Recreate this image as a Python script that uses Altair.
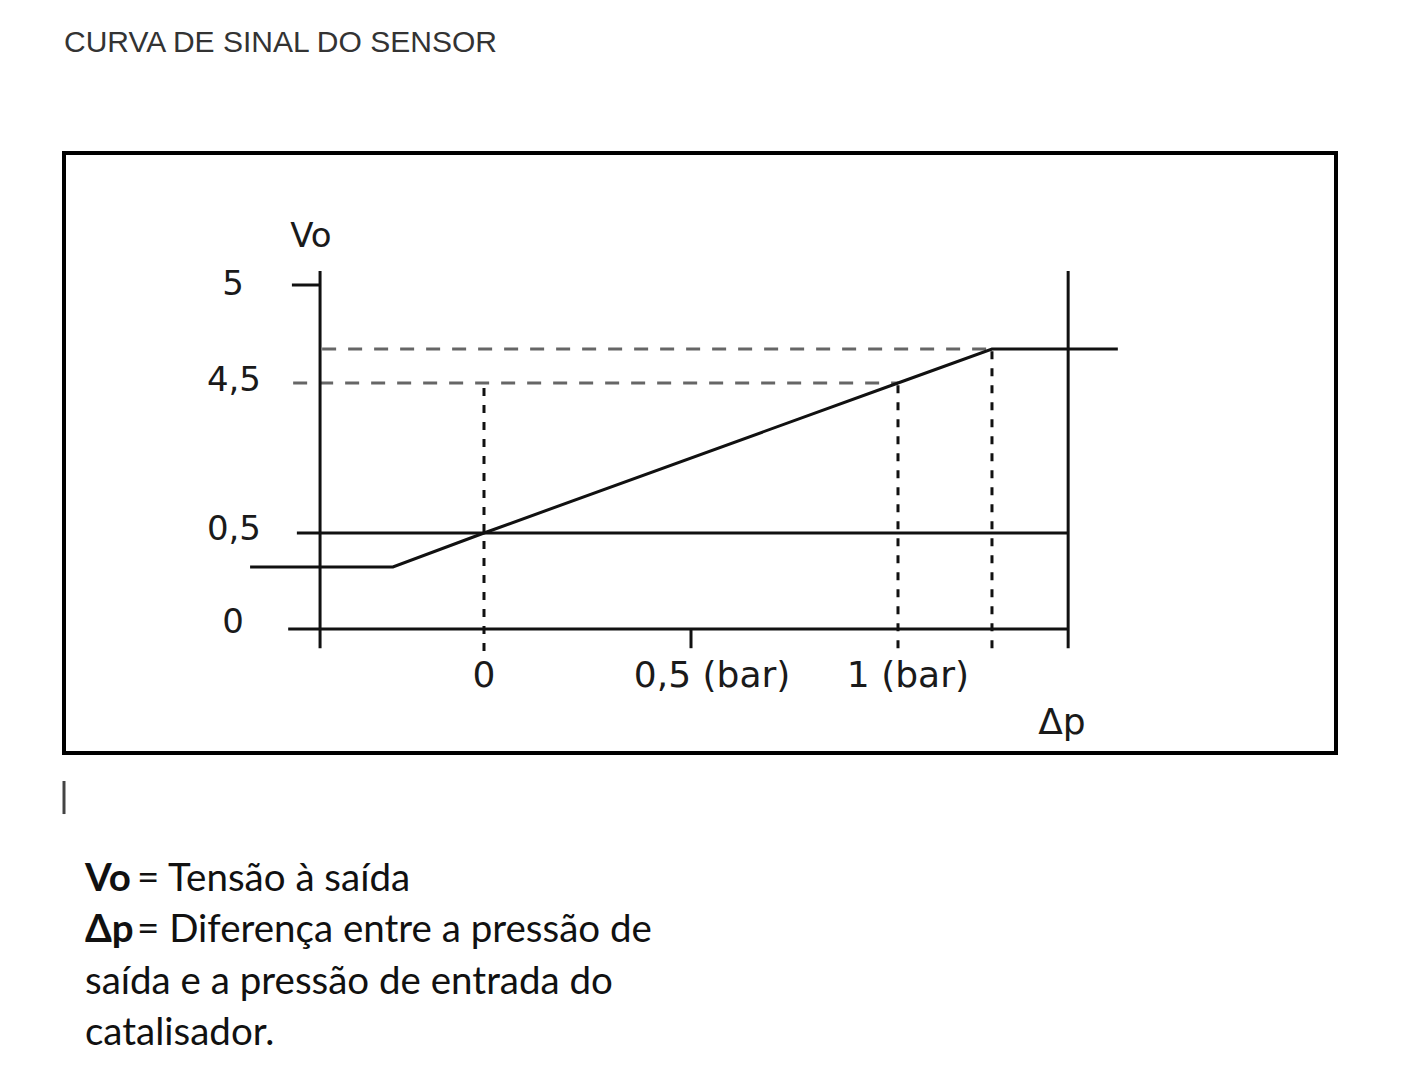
import altair as alt
import pandas as pd

# ---------------- data ----------------
# sensor signal curve: Δp (bar) -> Vo (V)
curve_dp = [-0.565, -0.220, 0.0, 1.0, 1.227, 1.531]
curve_vo = [0.323, 0.323, 0.5, 4.5, 4.673, 4.673]

# solid construction lines (axes, ticks, 0,5 V line, right limit)
solid_x = [-0.396, -0.473, -0.464, -0.452, 1.411, 0.5]
solid_x2 = [-0.396, 1.411, -0.396, 1.411, 1.411, 0.5]
solid_y = [-0.10, 0.0, 5.0, 0.5, -0.10, -0.10]
solid_y2 = [5.071, 0.0, 5.0, 0.5, 5.071, 0.0]

# dashed horizontal guides (gray)
hdash_x = [-0.461, -0.391]
hdash_x2 = [1.0, 1.227]
hdash_y = [4.5, 4.673]

# dashed vertical guides (black)
vdash_x = [0.0, 1.0, 1.227]
vdash_y = [-0.115, -0.10, -0.10]
vdash_y2 = [4.5, 4.5, 4.673]

# labels
ylab_text = ["Vo", "5", "4,5", "0,5", "0"]
ylab_x = [-0.418, -0.606, -0.604, -0.604, -0.606]
ylab_y = [5.245, 5.0, 4.51, 0.567, 0.031]

xlab_text = ["0", "0,5 (bar)", "1 (bar)", "Δp"]
xlab_x = [0.0, 0.551, 1.024, 1.396]
xlab_y = [-0.245, -0.245, -0.245, -0.49]

# legend text below the diagram
leg_bold_text = ["Vo", "Δp"]
leg_bold_x = [0.0165, 0.0165]
leg_bold_line = [1, 2]
leg_text = ["= Tensão à saída", "= Diferença entre a pressão de",
            "saída e a pressão de entrada do", "catalisador."]
leg_x = [0.0574, 0.0574, 0.0165, 0.0165]
leg_line = [1, 2, 3, 4]
cursor_x = [0.0]
cursor_l1 = [-0.895]
cursor_l2 = [-0.254]

# ---------------- scales ----------------
xs = alt.Scale(domain=[-1.01449, 2.05797], nice=False, zero=False)
ys = alt.Scale(domain=[0, 0.5, 4.5, 5], range=[476, 380, 230, 132], nice=False, zero=False)

def X(f):
    return alt.X(f, type="quantitative", scale=xs, axis=None)

def Y(f):
    return alt.Y(f, type="quantitative", scale=ys, axis=None)

curve = alt.Chart(pd.DataFrame({"dp": curve_dp, "vo": curve_vo})).mark_line(
    color="#111111", strokeWidth=3
).encode(x=X("dp"), y=Y("vo"), order=alt.Order("dp:Q"))

solid = alt.Chart(pd.DataFrame({"x": solid_x, "x2": solid_x2, "y": solid_y, "y2": solid_y2})).mark_rule(
    color="#111111", strokeWidth=3
).encode(x=X("x"), x2="x2", y=Y("y"), y2="y2")

hdash = alt.Chart(pd.DataFrame({"x": hdash_x, "x2": hdash_x2, "y": hdash_y})).mark_rule(
    color="#666666", strokeWidth=3, strokeDash=[14, 12]
).encode(x=X("x"), x2="x2", y=Y("y"))

vdash = alt.Chart(pd.DataFrame({"x": vdash_x, "y": vdash_y, "y2": vdash_y2})).mark_rule(
    color="#111111", strokeWidth=3, strokeDash=[8, 9]
).encode(x=X("x"), y=Y("y"), y2="y2")

ylabels = alt.Chart(pd.DataFrame({"t": ylab_text, "x": ylab_x, "y": ylab_y})).mark_text(
    font="DejaVu Sans", fontSize=34, color="#1a1a1a", align="center", baseline="middle"
).encode(x=X("x"), y=Y("y"), text="t:N")

xlabels = alt.Chart(pd.DataFrame({"t": xlab_text, "x": xlab_x, "y": xlab_y})).mark_text(
    font="DejaVu Sans", fontSize=36, color="#1a1a1a", align="center", baseline="middle"
).encode(x=X("x"), y=Y("y"), text="t:N")

diagram = alt.layer(hdash, vdash, solid, curve, ylabels, xlabels).properties(
    width=1272,
    height=600,
    view=alt.ViewBackground(stroke="#000000", strokeWidth=4),
    title=alt.TitleParams(
        "CURVA DE SINAL DO SENSOR", anchor="start", font="Liberation Sans",
        fontSize=30, fontWeight="normal", color="#333333", offset=95,
    ),
)

# ---------------- legend panel ----------------
lxs = alt.Scale(domain=[0, 1], nice=False, zero=False)
lys = alt.Scale(domain=[-1.4, 4.54], nice=False, zero=False, reverse=True)

def LX(f):
    return alt.X(f, type="quantitative", scale=lxs, axis=None)

def LY(f):
    return alt.Y(f, type="quantitative", scale=lys, axis=None)

bold = alt.Chart(pd.DataFrame({"t": leg_bold_text, "x": leg_bold_x, "l": leg_bold_line})).mark_text(
    font="Lato", fontSize=38.5, fontWeight="bold", color="#111111", align="left", baseline="middle"
).encode(x=LX("x"), y=LY("l"), text="t:N")

regular = alt.Chart(pd.DataFrame({"t": leg_text, "x": leg_x, "l": leg_line})).mark_text(
    font="Lato", fontSize=38.5, color="#111111", align="left", baseline="middle"
).encode(x=LX("x"), y=LY("l"), text="t:N")

cursor = alt.Chart(pd.DataFrame({"x": cursor_x, "l": cursor_l1, "l2": cursor_l2})).mark_rule(
    color="#444444", strokeWidth=3
).encode(x=LX("x"), y=LY("l"), y2="l2")

legend = alt.layer(cursor, bold, regular).properties(
    width=1272, height=306, view=alt.ViewBackground(stroke=None)
)

chart = alt.vconcat(diagram, legend, spacing=0).properties(
    padding={"left": 54, "top": 18, "right": 10, "bottom": 5},
    background="white",
).configure_view(stroke=None)

chart.save("out.html", embed_options={"renderer": "svg", "actions": False})
